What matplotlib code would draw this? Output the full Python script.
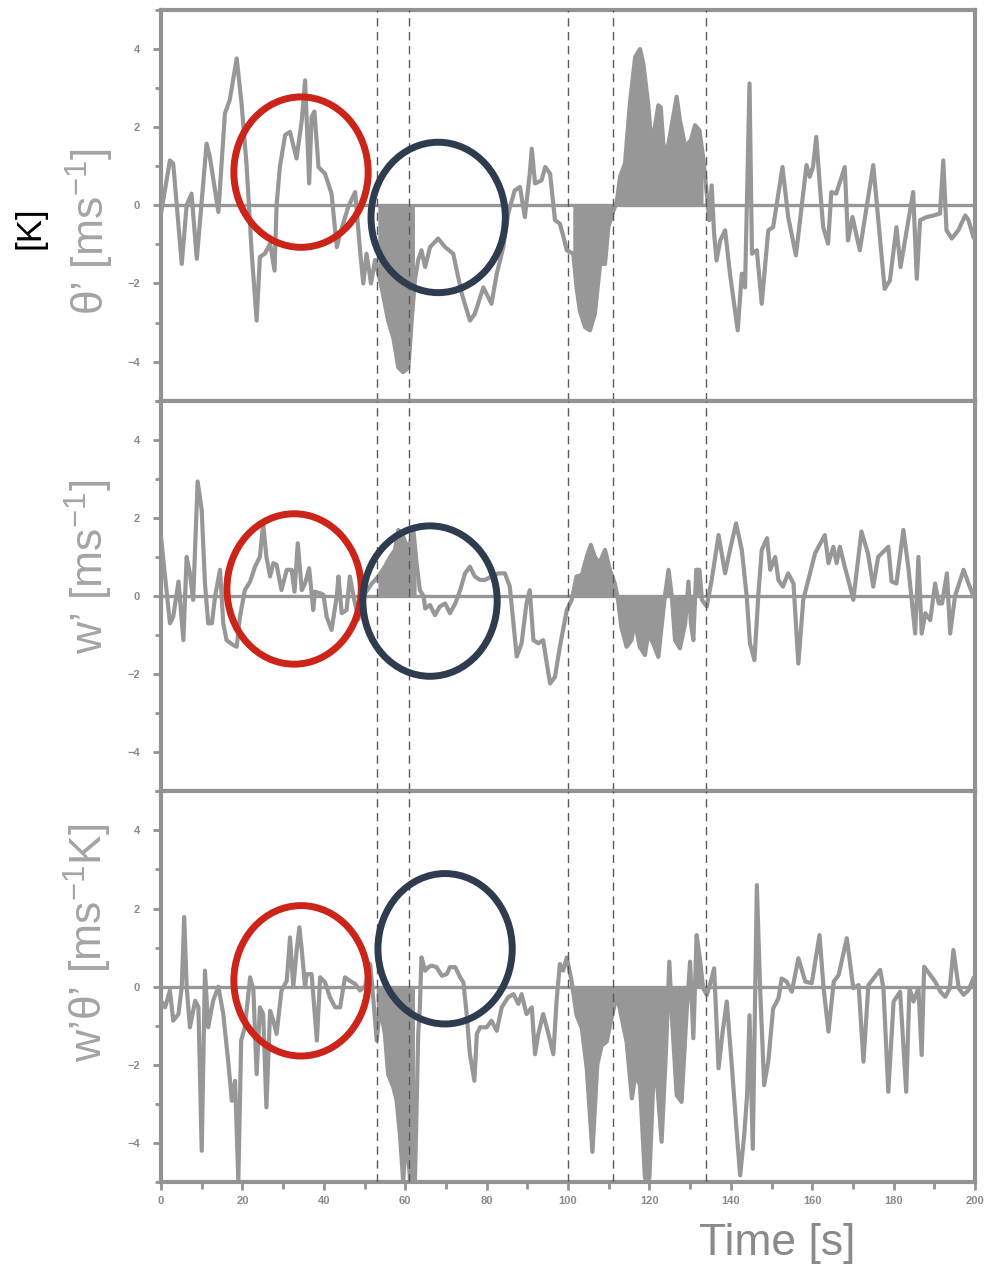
import numpy as np
import matplotlib
matplotlib.use("Agg")
import matplotlib.pyplot as plt
from matplotlib.patches import Ellipse
from matplotlib.ticker import MultipleLocator, FixedLocator

plt.rcParams['font.family'] = ['Liberation Sans', 'DejaVu Sans']
plt.rcParams['mathtext.fontset'] = 'custom'
plt.rcParams['mathtext.rm'] = 'Liberation Sans'
plt.rcParams['mathtext.it'] = 'Liberation Sans:italic'
plt.rcParams['mathtext.bf'] = 'Liberation Sans:bold'

# ---- potential temperature fluctuation theta' ----
THETA_T = [0, 2.2, 3.0, 5.1, 6.3, 7.5, 8.8, 11.2, 12.0, 14.1,
           15.7, 16.9, 18.6, 19.8, 21.0, 22.3, 23.5, 24.3, 25.5, 26.8,
           27.9, 28.4, 29.2, 30.5, 31.7, 33.3, 34.6, 35.4, 35.8, 36.4,
           37.0, 37.7, 38.7, 40.3, 41.9, 43.2, 44.0, 46.0, 47.7, 48.9,
           49.7, 50.5, 51.6, 52.6, 53.4, 54.2, 55.8, 57.1, 58.3, 59.5,
           60.8, 61.6, 62.4, 63.2, 64.0, 64.9, 66.1, 68.1, 69.8, 71.8,
           73.9, 75.9, 77.1, 79.2, 80.4, 81.2, 82.5, 84.1, 85.3, 86.9,
           88.2, 89.4, 90.6, 91.1, 91.9, 93.5, 94.4, 95.6, 96.8, 98.0,
           98.9, 99.7, 101.3, 102.1, 102.9, 104.2, 105.4, 106.6, 107.9, 109.1,
           109.9, 111.2, 112.0, 112.8, 114.0, 115.2, 116.5, 117.7, 118.5, 119.7,
           120.3, 121.2, 122.2, 122.8, 123.6, 124.7, 126.7, 127.5, 128.8, 130.2,
           131.2, 132.3, 133.3, 134.1, 134.7, 135.3, 135.9, 136.5, 137.4, 138.6,
           139.8, 141.7, 142.7, 143.5, 144.6, 145.2, 146.4, 147.6, 149.2, 150.4,
           152.7, 154.1, 156.0, 158.6, 159.4, 160.2, 161.0, 161.9, 162.7, 163.9,
           164.7, 165.9, 168.0, 168.8, 169.9, 171.7, 175.0, 177.8, 179.1, 180.7,
           181.7, 184.8, 185.7, 186.5, 188.1, 189.8, 191.4, 192.2, 193.0, 194.3,
           195.9, 197.6, 198.4, 199.6]
THETA_V = [-0.2, 1.15, 1.07, -1.5, 0.0, 0.3, -1.37, 1.58, 1.24, -0.17,
           2.35, 2.7, 3.76, 2.6, 1.07, -1.24, -2.95, -1.32, -1.24, -0.98,
           -1.67, 0.0, 0.98, 1.8, 1.88, 1.2, 2.18, 3.2, 2.18, 0.56,
           2.26, 2.4, 0.98, 0.81, 0.3, -1.07, -0.73, -0.04, 0.34, -1.15,
           -2.0, -1.24, -2.0, -1.4, -1.75, -2.1, -2.95, -3.4, -4.15, -4.27,
           -4.15, -2.95, -1.9, -1.4, -1.15, -1.58, -1.07, -0.85, -1.07, -1.24,
           -2.26, -2.95, -2.78, -2.1, -2.35, -2.52, -1.75, -1.07, -0.21, 0.38,
           0.47, -0.3, 0.81, 1.45, 0.56, 0.64, 0.98, 0.81, -0.38, -0.47,
           -0.81, -1.15, -1.24, -2.1, -2.7, -3.12, -3.2, -2.78, -1.5, -1.5,
           -0.56, -0.13, 0.1, 0.73, 1.07, 2.6, 3.8, 4.0, 3.63, 2.6,
           1.84, 1.92, 2.56, 2.5, 1.32, 1.58, 2.78, 2.18, 1.5, 1.67,
           2.05, 1.92, 1.15, 0.3, -0.38, 0.51, -0.73, -1.41, -0.9, -0.64,
           -1.75, -3.2, -1.75, -2.1, 3.12, -1.24, -1.15, -2.52, -0.64, -0.56,
           0.98, -0.3, -1.28, 1.03, 0.73, 0.98, 1.75, 0.47, -0.56, -0.98,
           0.34, 0.3, 0.98, -0.9, -0.3, -1.15, 1.03, -2.14, -1.92, -0.56,
           -1.58, 0.34, -1.88, -0.38, -0.3, -0.26, -0.21, 1.15, -0.64, -0.85,
           -0.64, -0.26, -0.38, -0.81]

# ---- vertical velocity fluctuation w' ----
W_T = [0, 1.0, 2.2, 3.0, 4.3, 5.5, 6.3, 7.1, 7.9, 9.0,
       10.0, 10.8, 11.6, 12.5, 13.3, 14.5, 15.3, 16.1, 17.8, 18.6,
       19.4, 20.6, 21.9, 23.1, 24.3, 25.1, 25.9, 26.8, 27.6, 28.4,
       29.6, 30.9, 32.1, 32.8, 33.6, 34.6, 35.4, 36.4, 37.4, 37.8,
       39.1, 39.9, 40.7, 41.9, 43.2, 43.6, 44.4, 45.6, 46.4, 47.3,
       48.5, 49.7, 51.8, 53.4, 55.0, 56.3, 57.5, 58.3, 59.5, 60.8,
       62.0, 62.8, 63.6, 64.5, 64.9, 66.1, 67.3, 68.5, 69.8, 71.0,
       72.3, 73.5, 74.7, 75.9, 77.1, 78.4, 79.6, 81.2, 82.9, 84.5,
       85.7, 86.6, 87.4, 88.6, 89.8, 90.6, 91.5, 92.7, 93.9, 94.8,
       95.6, 96.8, 98.0, 99.7, 100.9, 102.1, 103.4, 104.6, 105.6, 106.6,
       107.7, 109.1, 110.3, 111.5, 112.3, 113.1, 114.4, 115.6, 116.4, 117.6,
       118.9, 119.7, 120.9, 122.2, 123.0, 123.8, 124.7, 125.5, 126.3, 127.5,
       128.8, 129.6, 130.2, 130.8, 131.5, 132.3, 132.9, 134.1, 135.3, 137.0,
       138.6, 139.8, 141.3, 142.7, 143.9, 144.7, 145.8, 146.8, 147.6, 148.9,
       149.7, 150.9, 151.7, 152.8, 154.1, 155.4, 156.6, 157.8, 160.7, 163.1,
       164.0, 165.2, 166.0, 166.8, 168.0, 169.3, 170.1, 172.1, 173.7, 175.0,
       176.2, 178.7, 179.5, 180.7, 182.4, 183.6, 184.8, 185.3, 186.1, 186.9,
       187.8, 189.0, 190.2, 191.1, 191.9, 193.1, 193.9, 195.1, 197.2, 198.4,
       199.6]
W_V = [1.5, 0.5, -0.7, -0.53, 0.37, -1.13, 1.0, 0.58, -0.1, 2.93,
       2.2, 0.32, -0.7, -0.7, 0.0, 0.67, -0.7, -1.13, -1.26, -1.3,
       -0.53, 0.15, 0.37, 0.75, 1.0, 1.86, 1.0, 0.5, 0.84, 0.8,
       0.15, 0.67, 0.67, 0.11, 1.35, 0.15, 0.32, 0.71, -0.36, 0.11,
       0.07, 0.03, -0.53, -0.87, 0.0, 0.5, -0.44, -0.36, 0.5, 0.0,
       -0.6, 0.0, 0.32, 0.5, 0.75, 1.0, 1.18, 1.69, 1.52, 1.18,
       1.69, 0.84, 0.15, 0.0, -0.32, -0.23, -0.49, -0.27, -0.19, -0.44,
       -0.19, 0.15, 0.58, 0.75, 0.5, 0.41, 0.41, 0.5, 0.58, 0.58,
       0.24, -0.7, -1.55, -1.21, -0.19, 0.15, -1.13, -1.21, -1.13, -1.73,
       -2.24, -2.07, -1.3, -0.36, -0.1, 0.5, 0.54, 1.0, 1.31, 1.0,
       0.84, 1.18, 0.67, 0.32, -0.1, -0.79, -1.3, -1.13, -0.62, -1.3,
       -1.51, -0.96, -1.21, -1.56, -0.79, 0.0, 0.67, 0.0, -1.13, -1.34,
       -0.7, 0.37, -0.7, -1.13, 0.67, 0.67, -0.1, -0.27, 0.41, 1.56,
       0.58, 1.18, 1.86, 1.18, 0.0, -1.21, -1.64, 0.07, 1.18, 1.48,
       0.67, 1.0, 0.41, 0.24, 0.58, 0.32, -1.73, -0.1, 1.09, 1.56,
       0.84, 1.26, 0.84, 1.26, 0.75, 0.24, -0.1, 1.65, 1.09, 0.24,
       1.0, 1.26, 0.37, 0.32, 1.69, 0.75, -0.44, -0.96, 1.0, -0.96,
       -0.44, -0.62, 0.32, -0.19, -0.19, 0.58, -0.96, 0.0, 0.67, 0.32,
       0.0]

# ---- kinematic heat flux w'theta' ----
FLUX_T = [0, 1.0, 2.2, 3.0, 4.3, 5.1, 5.7, 6.3, 7.1, 8.4,
          9.2, 10.0, 10.8, 11.6, 12.8, 14.1, 15.3, 16.5, 17.4, 18.2,
          19.0, 19.7, 20.6, 21.9, 22.7, 23.5, 24.3, 25.1, 25.9, 26.8,
          27.6, 28.4, 29.6, 30.9, 31.7, 32.5, 33.4, 34.0, 34.6, 35.4,
          35.8, 37.0, 38.3, 39.1, 40.3, 41.5, 42.8, 44.0, 45.2, 46.4,
          47.7, 48.9, 50.1, 51.4, 52.2, 53.0, 53.8, 55.0, 55.8, 57.1,
          57.9, 58.7, 59.5, 60.4, 61.2, 62.4, 63.2, 63.6, 64.0, 64.9,
          65.7, 66.5, 67.7, 69.0, 70.2, 71.0, 72.3, 73.5, 74.3, 75.1,
          75.9, 77.0, 77.6, 78.4, 80.0, 81.2, 82.5, 83.7, 85.3, 86.6,
          87.8, 88.6, 89.8, 91.1, 91.9, 92.7, 93.9, 95.2, 96.4, 97.2,
          98.0, 98.8, 99.7, 100.9, 102.1, 103.4, 104.6, 106.0, 107.2, 108.3,
          109.5, 110.7, 112.0, 113.2, 114.4, 115.7, 116.5, 117.7, 118.9, 120.0,
          121.0, 122.0, 123.0, 124.1, 124.9, 125.5, 126.7, 127.9, 129.2, 130.0,
          130.8, 131.6, 132.4, 133.2, 134.1, 135.1, 135.9, 137.0, 138.0, 139.0,
          140.3, 141.5, 142.3, 143.3, 144.0, 144.6, 145.4, 146.4, 147.2, 148.2,
          149.2, 150.4, 151.7, 152.5, 153.7, 155.0, 156.6, 158.3, 159.9, 161.8,
          162.8, 164.0, 165.3, 166.5, 168.5, 170.1, 171.4, 172.6, 173.8, 176.7,
          177.5, 178.7, 180.0, 181.6, 183.1, 183.9, 184.9, 186.1, 186.9, 187.5,
          189.0, 190.2, 191.5, 192.7, 193.8, 194.7, 196.0, 197.2, 198.4, 199.6]
FLUX_V = [-0.36, -0.53, -0.1, -0.87, -0.7, 0.0, 1.78, 0.0, -1.04, -0.36,
          -0.53, -4.2, 0.41, -1.04, -0.36, 0.0, -0.7, -1.9, -2.92, -2.41,
          -4.97, -1.38, -1.04, 0.24, -0.1, -2.24, -0.53, -0.7, -3.09, -0.62,
          -0.87, -1.21, -0.1, 0.15, 1.26, 0.0, 1.0, 1.52, 0.92, 0.0,
          0.32, 0.32, -1.38, 0.24, 0.11, -0.27, -0.53, -0.53, 0.24, 0.15,
          0.07, -0.1, 0.0, 0.58, -0.36, -1.38, -0.53, -1.21, -2.24, -2.58,
          -2.92, -3.78, -4.97, -3.78, -4.97, -4.97, -1.21, -0.53, 0.75, 0.41,
          0.5, 0.54, 0.5, 0.28, 0.32, 0.5, 0.5, 0.24, 0.11, -0.7,
          -1.73, -2.41, -1.21, -1.04, -1.04, -0.87, -1.13, -0.53, -0.27, -0.19,
          -0.44, -0.19, -0.7, -0.53, -1.73, -1.21, -0.7, -1.21, -1.73, -0.36,
          0.58, 0.41, 0.75, 0.13, -0.73, -1.07, -2.09, -4.23, -2.0, -1.5,
          -1.41, -0.81, -0.21, -0.81, -1.41, -2.86, -2.26, -2.52, -4.9, -4.9,
          -2.35, -2.6, -3.97, -1.58, 0.64, -0.73, -2.78, -2.95, -0.56, 0.64,
          -1.32, 1.32, 0.73, -0.04, -0.21, 0.13, 0.47, -2.09, -1.15, -0.38,
          -2.09, -3.8, -4.83, -3.8, -2.78, -0.73, -4.15, 2.6, -0.04, -2.52,
          -1.92, -0.56, -0.3, 0.21, 0.13, -0.13, 0.73, 0.13, 0.09, 1.32,
          -0.04, -1.15, 0.13, 0.3, 1.24, -0.04, 0.04, -1.92, 0.04, 0.43,
          -0.04, -2.69, -0.38, -0.13, -2.69, -0.04, -0.38, -0.04, -1.75, 0.51,
          0.3, 0.13, -0.13, -0.26, -0.04, 0.94, -0.04, -0.21, -0.09, 0.21]

SERIES = [(THETA_T, THETA_V), (W_T, W_V), (FLUX_T, FLUX_V)]
Y_LABELS = ["θ’ [ms$^{-1}$]", "w’ [ms$^{-1}$]", "w’θ’ [ms$^{-1}$K]"]
EVENT_TIMES = [53, 61, 100, 111, 134]
SHADE_SPANS = [(53, 63), (100, 134)]
X_MAJOR = list(range(0, 201, 20))
Y_MAJOR = [-4, -2, 0, 2, 4]

# highlighted regions (centre time, centre value) per panel
RED_MARKS = [(34.4, 0.85), (32.7, 0.18), (34.4, 0.15)]
NAVY_MARKS = [(68.1, -0.31), (66.1, -0.13), (69.8, 0.97)]
MARK_SIZE = (33.0, 3.85)

LINE_GREY = '#979797'
FRAME_GREY = '#939393'
TEXT_GREY = '#8a8a8a'

W_PX, H_PX = 990, 1270
fig = plt.figure(figsize=(W_PX / 100, H_PX / 100), dpi=100)

left_px, right_px = 161, 975
top_px, bottom_px = 10, 1182
panel_h = (bottom_px - top_px) / 3

axes = []
for i, (t, v) in enumerate(SERIES):
    t = np.asarray(t)
    v = np.asarray(v)
    y0 = top_px + i * panel_h
    ax = fig.add_axes([left_px / W_PX, 1 - (y0 + panel_h) / H_PX,
                       (right_px - left_px) / W_PX, panel_h / H_PX])
    axes.append(ax)
    ax.set_xlim(0, 200)
    ax.set_ylim(-5, 5)

    ax.axhline(0, color=LINE_GREY, lw=2.4, zorder=2)
    ax.plot(t, v, color=LINE_GREY, lw=3.0, solid_joinstyle='round', zorder=3)
    mask = np.zeros_like(t, dtype=bool)
    for a, b in SHADE_SPANS:
        mask |= (t >= a) & (t <= b)
    ax.fill_between(t, v, 0, where=mask, color=LINE_GREY, lw=0, zorder=3)

    for xe in EVENT_TIMES:
        ax.axvline(xe, color='#5a5a5a', lw=1.0, dashes=(6, 4), zorder=4)

    for (cx, cy), col in ((RED_MARKS[i], '#cc2419'), (NAVY_MARKS[i], '#2f3b4e')):
        ax.add_patch(Ellipse((cx, cy), MARK_SIZE[0], MARK_SIZE[1], fill=False,
                             edgecolor=col, lw=5, zorder=6, clip_on=False))

    for s in ax.spines.values():
        s.set_color(FRAME_GREY)
        s.set_linewidth(3)

    ax.yaxis.set_major_locator(FixedLocator(Y_MAJOR))
    ax.yaxis.set_minor_locator(MultipleLocator(1))
    ax.tick_params(axis='y', which='major', direction='out', length=6, width=2,
                   color=FRAME_GREY, labelsize=8, labelcolor=TEXT_GREY, pad=9)
    ax.tick_params(axis='y', which='minor', direction='out', length=4, width=2,
                   color=FRAME_GREY)
    for lab in ax.get_yticklabels():
        lab.set_fontweight('bold')

    if i < 2:
        ax.tick_params(axis='x', which='both', bottom=False, labelbottom=False)
    else:
        ax.xaxis.set_major_locator(FixedLocator(X_MAJOR))
        ax.xaxis.set_minor_locator(MultipleLocator(10))
        ax.tick_params(axis='x', which='major', direction='out', length=6, width=2,
                       color=FRAME_GREY, labelsize=8, labelcolor=TEXT_GREY, pad=4)
        ax.tick_params(axis='x', which='minor', direction='out', length=5, width=2,
                       color=FRAME_GREY)
        for lab in ax.get_xticklabels():
            lab.set_fontweight('bold')

# axis titles
label_pos = [(90, 232), (89, 567), (88, 943)]
for (px, py), txt in zip(label_pos, Y_LABELS):
    fig.text(px / W_PX, 1 - py / H_PX, txt, rotation=90, ha='center', va='center',
             fontsize=32, color='#a4a4a4')
fig.text(30 / W_PX, 1 - 228 / H_PX, "[K]", rotation=90, ha='center', va='center',
         fontsize=25, color='black')
fig.text(777 / W_PX, 1 - 1243 / H_PX, "Time [s]", ha='center', va='center',
         fontsize=32, color=TEXT_GREY)

fig.savefig("out.png", dpi=100)
